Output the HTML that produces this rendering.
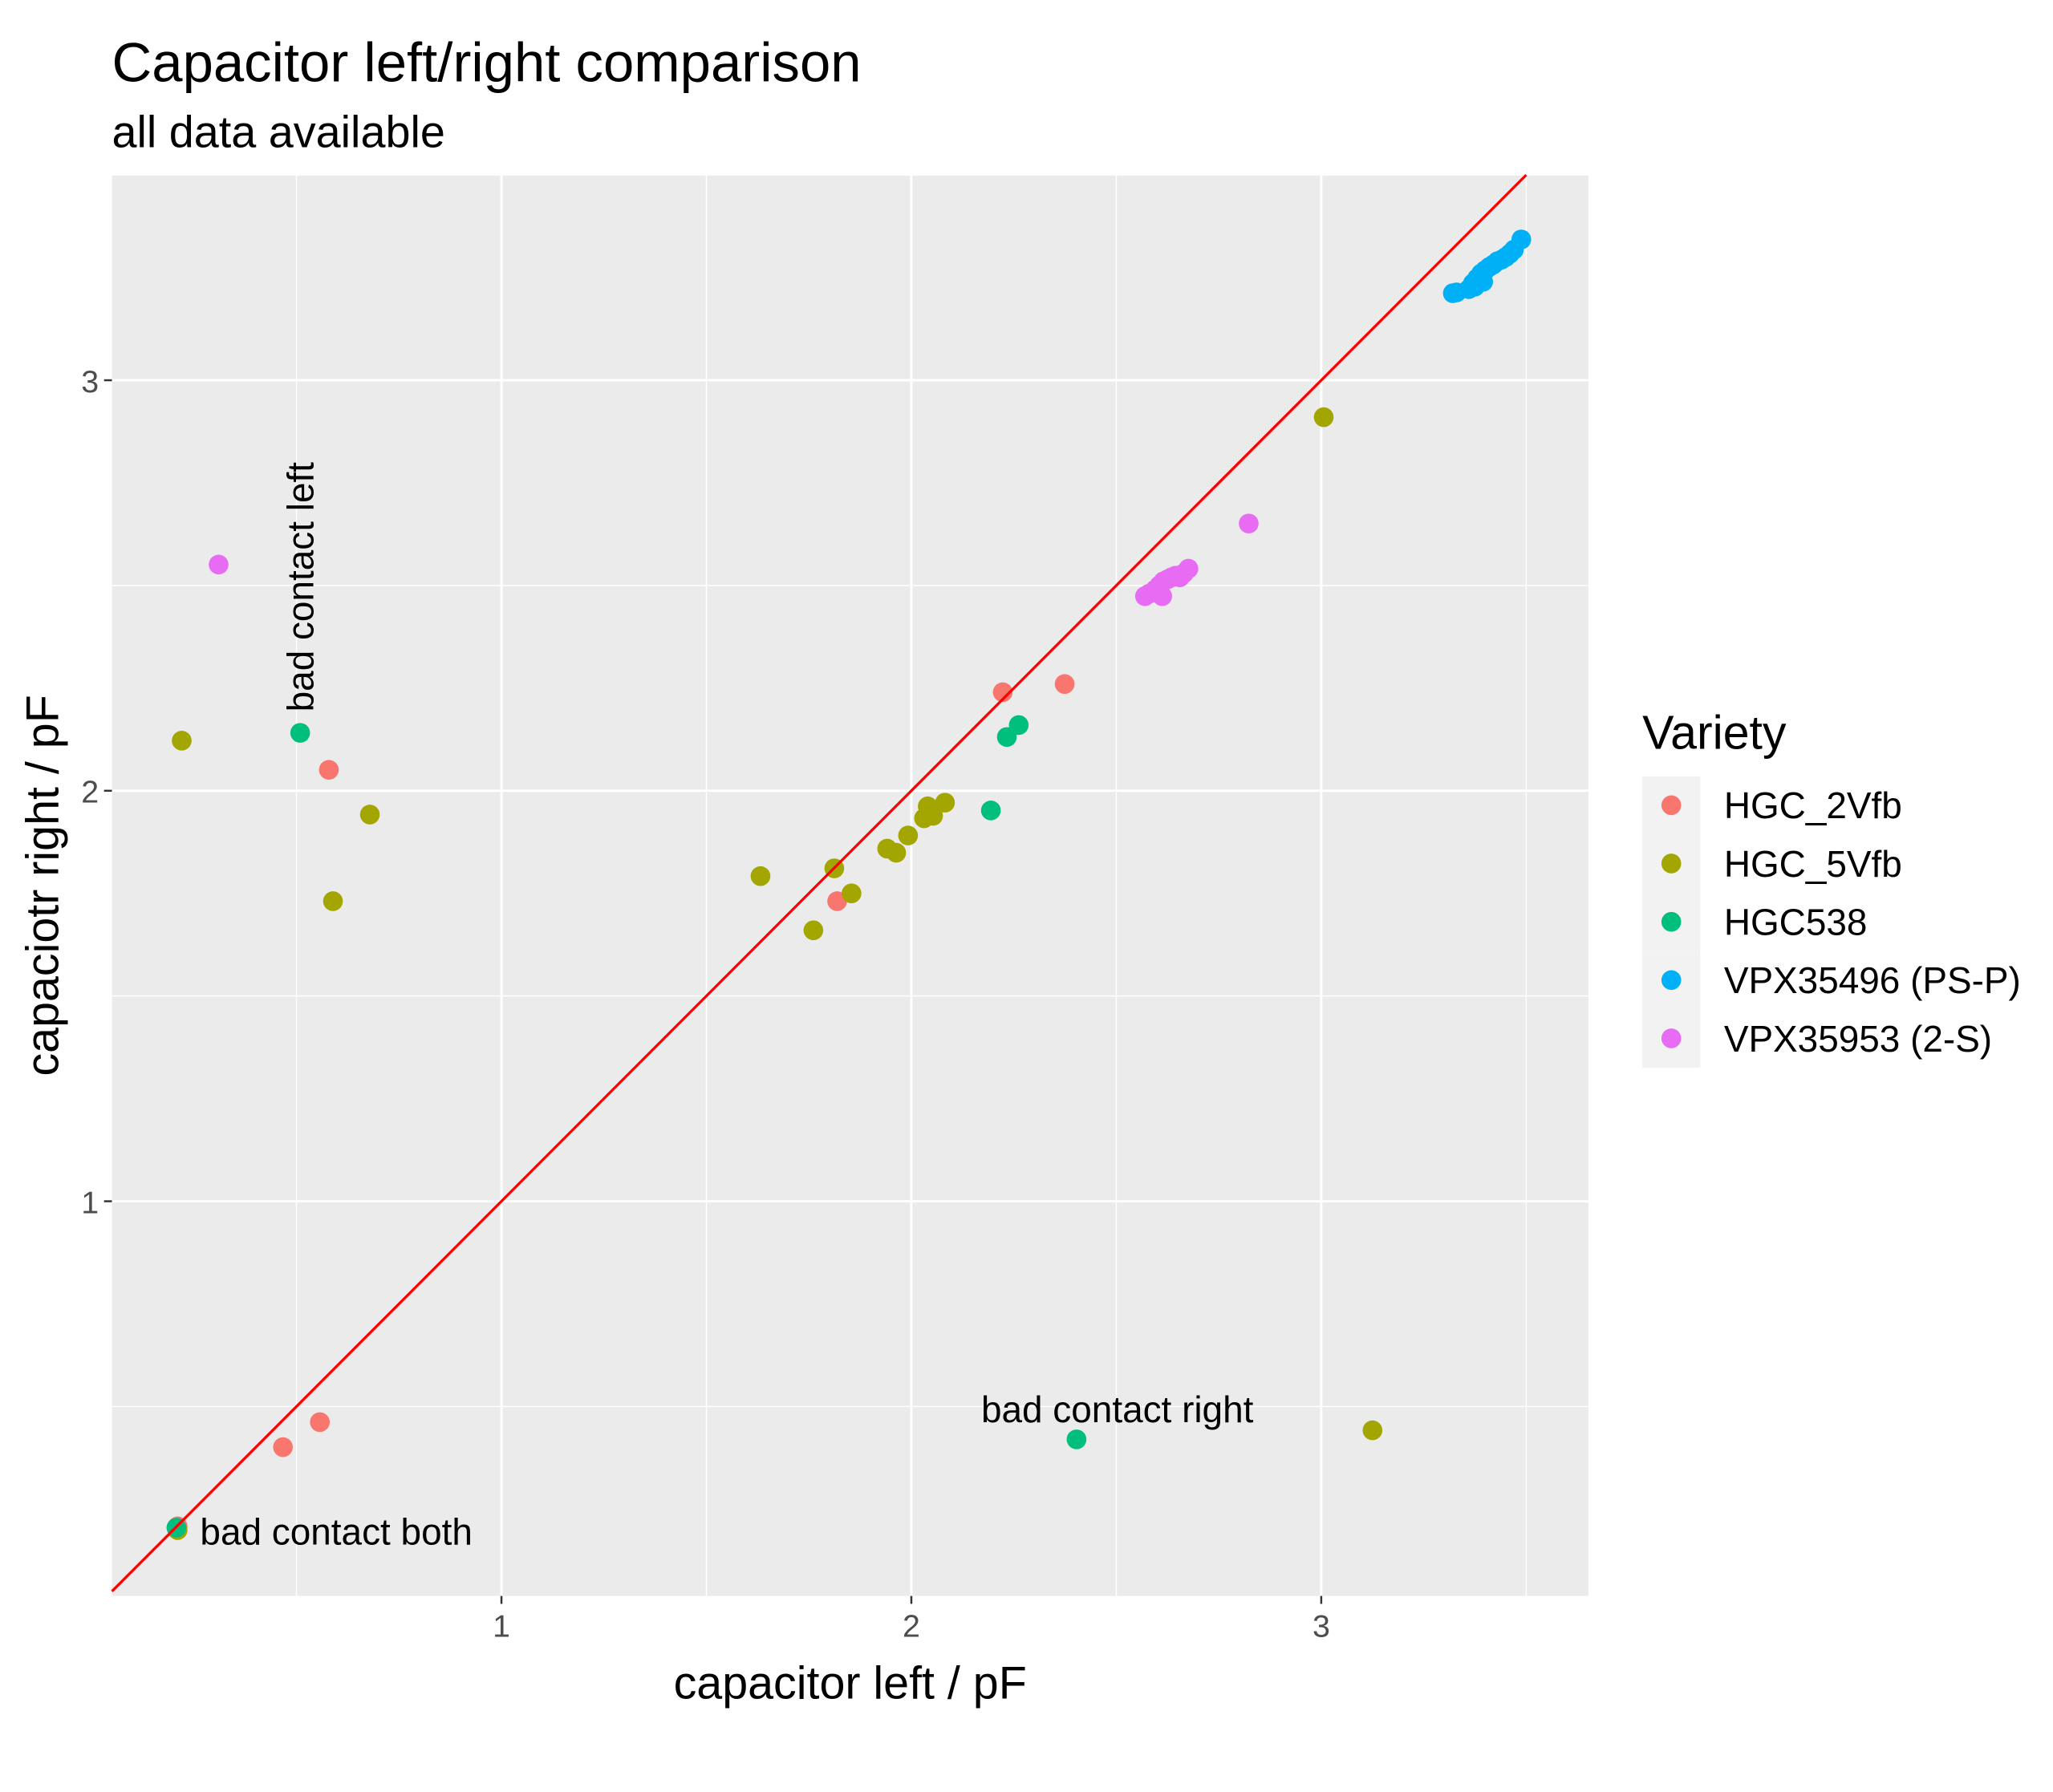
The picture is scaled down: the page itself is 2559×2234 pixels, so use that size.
<!DOCTYPE html>
<html><head><meta charset="utf-8"><style>
html,body{margin:0;padding:0;background:#fff;}
svg{display:block;font-family:"Liberation Sans",sans-serif;}
</style></head><body>
<svg id="chart" width="2559" height="2234" viewBox="0 0 1560 1362" xmlns="http://www.w3.org/2000/svg">
<rect width="1560" height="1362" fill="#fff"/>
<text x="85" y="62" font-size="42" fill="#000">Capacitor left/right comparison</text>
<text x="85" y="112" font-size="34" fill="#000">all data available</text>
<rect x="85" y="133" width="1122" height="1080" fill="#ebebeb"/>
<g id="grid"></g>
<g id="marks"></g>
<g id="ticks"></g>
<text transform="translate(238,541) rotate(-90)" font-size="28" fill="#000">bad contact left</text>
<text x="849" y="1081" text-anchor="middle" font-size="28" fill="#000">bad contact right</text>
<text x="152" y="1174" font-size="28" fill="#000">bad contact both</text>
<text x="646" y="1291" text-anchor="middle" font-size="35" fill="#000">capacitor left / pF</text>
<text transform="translate(44,673) rotate(-90)" text-anchor="middle" font-size="35" fill="#000">capaciotr right / pF</text>
<g id="legend">
<text x="1248" y="569" font-size="36" fill="#000">Variety</text>
</g>
</svg>
<script>
const categories = ["HGC_2Vfb","HGC_5Vfb","HGC538","VPX35496 (PS-P)","VPX35953 (2-S)"];
const colors = ["#F8766D","#A3A500","#00BF7D","#00B0F6","#E76BF3"];
const xTicks = [1,2,3];
const yTicks = [1,2,3];
const xHGC2 = [0.579,2.223,2.374,1.819,0.467,0.557,0.21];
const yHGC2 = [2.051,2.240,2.260,1.731,0.401,0.462,0.208];
const xHGC5 = [0.22,0.679,0.589,1.632,1.761,1.812,1.854,1.941,1.963,1.992,2.031,2.04,2.053,2.082,3.006,3.125,0.21];
const yHGC5 = [2.122,1.942,1.731,1.792,1.660,1.811,1.75,1.859,1.849,1.891,1.933,1.962,1.939,1.971,2.910,0.442,0.199];
const xHGC538 = [0.509,2.194,2.233,2.262,2.403,0.207];
const yHGC538 = [2.141,1.952,2.131,2.160,0.42,0.205];
const xVPX496 = [3.321,3.33,3.36,3.37,3.38,3.39,3.40,3.41,3.42,3.43,3.44,3.45,3.46,3.47,3.488,3.375,3.395];
const yVPX496 = [3.212,3.214,3.222,3.236,3.248,3.26,3.268,3.276,3.282,3.29,3.294,3.30,3.308,3.318,3.343,3.228,3.24];
const xVPX953 = [0.31,2.823,2.57,2.58,2.595,2.605,2.615,2.625,2.635,2.645,2.655,2.665,2.676,2.612];
const yVPX953 = [2.551,2.651,2.474,2.48,2.49,2.5,2.51,2.515,2.52,2.524,2.52,2.53,2.541,2.474];
const seriesX = [xHGC2,xHGC5,xHGC538,xVPX496,xVPX953];
const seriesY = [yHGC2,yHGC5,yHGC538,yVPX496,yVPX953];

const NS="http://www.w3.org/2000/svg";
const L=85,R=1207,T=133,B=1213;
const xMin=0.0498, xMax=3.6517, yMin=0.0385, yMax=3.5;
const sx=v=>L+(v-xMin)/(xMax-xMin)*(R-L);
const sy=v=>B-(v-yMin)/(yMax-yMin)*(B-T);
function mk(tag,attrs,parent){const e=document.createElementNS(NS,tag);for(const k in attrs)e.setAttribute(k,attrs[k]);parent.appendChild(e);return e;}
const grid=document.getElementById('grid'), marks=document.getElementById('marks'), ticks=document.getElementById('ticks'), legend=document.getElementById('legend');
for(let v=0.5;v<=3.5;v+=1){
  let e=mk('line',{x1:sx(v),x2:sx(v),y1:T,y2:B,stroke:'#fff','stroke-width':0.9},grid);
  
  
  e=mk('line',{x1:L,x2:R,y1:sy(v),y2:sy(v),stroke:'#fff','stroke-width':0.9},grid);
  
  
}
xTicks.forEach(v=>{
  let e=mk('line',{x1:sx(v),x2:sx(v),y1:T,y2:B,stroke:'#fff','stroke-width':1.8},grid);
  
  
  e=mk('line',{x1:sx(v),x2:sx(v),y1:B,y2:B+6,stroke:'#333','stroke-width':1.5},ticks);
  
  
  e=mk('text',{x:sx(v),y:B+31,'text-anchor':'middle','font-size':24,fill:'#4d4d4d'},ticks);
  e.textContent=v;
  
  
});
yTicks.forEach(v=>{
  let e=mk('line',{x1:L,x2:R,y1:sy(v),y2:sy(v),stroke:'#fff','stroke-width':1.8},grid);
  
  
  e=mk('line',{x1:L-6,x2:L,y1:sy(v),y2:sy(v),stroke:'#333','stroke-width':1.5},ticks);
  
  
  e=mk('text',{x:L-10,y:sy(v)+9,'text-anchor':'end','font-size':24,fill:'#4d4d4d'},ticks);
  e.textContent=v;
  
  
});
seriesX.forEach((xs,i)=>{
  xs.forEach((x,j)=>{
    const c=mk('circle',{cx:sx(x),cy:sy(seriesY[i][j]),r:7.5,fill:colors[i]},marks);
    
    
  });
});
const a=Math.max(xMin,yMin), b=Math.min(xMax,yMax);
const ln=mk('line',{x1:sx(a),y1:sy(a),x2:sx(b),y2:sy(b),stroke:'#ff0000','stroke-width':2},marks);


categories.forEach((c,i)=>{
  const y=612+i*44.3;
  const k=mk('rect',{x:1248,y:y-22,width:44,height:44.3,fill:'#f2f2f2'},legend);
  
  
  const d=mk('circle',{cx:1270,cy:y,r:7.5,fill:colors[i]},legend);
  
  
  const t=mk('text',{x:1310,y:y+10,'font-size':28,fill:'#000'},legend);
  t.textContent=c;
  
  
});
</script>
</body></html>
